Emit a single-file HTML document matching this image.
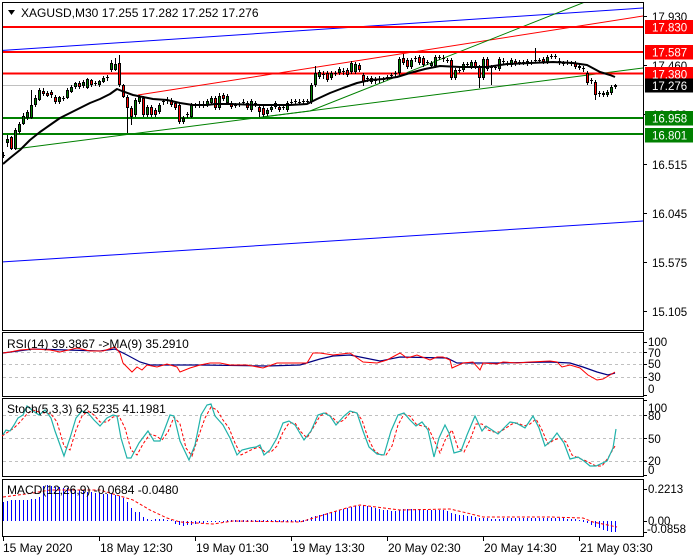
<!DOCTYPE html>
<html><head><meta charset="utf-8"><style>
html,body{margin:0;padding:0;background:#fff;}
svg{display:block;font-family:"Liberation Sans",sans-serif;}
</style></head><body>
<svg width="700" height="560" viewBox="0 0 700 560" xmlns="http://www.w3.org/2000/svg">
<rect width="700" height="560" fill="#fff"/>
<defs><clipPath id="cm"><rect x="3" y="3" width="640" height="327"/></clipPath></defs>

<!-- main panel -->
<g clip-path="url(#cm)">
<line x1="2" y1="85.5" x2="643" y2="85.5" stroke="#c0c0c0" stroke-width="1"/>
<line x1="2" y1="50.5" x2="643" y2="8" stroke="#0000ff" stroke-width="1"/>
<line x1="2" y1="262" x2="643" y2="221" stroke="#0000ff" stroke-width="1"/>
<line x1="138" y1="95" x2="643" y2="16" stroke="#ff0000" stroke-width="1"/>
<line x1="15" y1="149" x2="643" y2="68" stroke="#008000" stroke-width="1"/>
<polyline points="262,117 310,111 590,0" fill="none" stroke="#008000" stroke-width="1"/>
<g shape-rendering="crispEdges">
<rect x="2" y="26" width="641" height="2" fill="#ff0000"/>
<rect x="2" y="51" width="641" height="2" fill="#ff0000"/>
<rect x="2" y="72.5" width="641" height="2" fill="#ff0000"/>
<rect x="2" y="117" width="641" height="2" fill="#008000"/>
<rect x="2" y="133" width="641" height="2" fill="#008000"/>
</g>
<path shape-rendering="crispEdges" stroke="#000" stroke-width="1" fill="none" d="M3.5 152V158M7.5 135V147M11.5 136V150M15.5 128V150M19.5 122V134M23.5 113V125M27.5 110V120M31.5 90V119M35.5 95V107M39.5 88V101M43.5 88V96M47.5 91V97M51.5 90V98M55.5 95V104M59.5 96V104M63.5 96V101M67.5 88V99M71.5 85V93M75.5 82V89M79.5 81V89M83.5 80V88M87.5 78V89M91.5 79V87M95.5 81V86M99.5 80V87M103.5 76V83M107.5 75V81M111.5 60V72M115.5 58V71M119.5 55V87M123.5 84V98M127.5 95V133M131.5 106V125M135.5 98V117M139.5 95V104M143.5 96V117M147.5 105V117M151.5 105V117M155.5 108V117M159.5 103V114M163.5 99V105M167.5 97V104M171.5 98V107M175.5 101V110M179.5 103V124M183.5 116V124M187.5 112V118M191.5 103V118M195.5 103V108M199.5 101V108M203.5 101V108M207.5 99V107M211.5 96V104M215.5 96V110M219.5 93V110M223.5 93V101M227.5 94V105M231.5 101V109M235.5 103V108M239.5 102V107M243.5 99V105M247.5 101V110M251.5 99V112M255.5 101V107M259.5 105V117M263.5 106V117M267.5 108V116M271.5 105V112M275.5 101V109M279.5 105V112M283.5 105V110M287.5 101V112M291.5 99V105M295.5 99V104M299.5 99V105M303.5 99V104M307.5 99V104M311.5 83V104M315.5 66V87M319.5 70V79M323.5 71V79M327.5 71V82M331.5 71V80M335.5 71V76M339.5 67V75M343.5 68V75M347.5 68V77M351.5 61V74M355.5 62V74M359.5 63V72M363.5 73V86M367.5 76V82M371.5 76V84M375.5 77V84M379.5 76V83M383.5 77V82M387.5 75V80M391.5 73V79M395.5 71V77M399.5 57V75M403.5 54V65M407.5 58V69M411.5 58V69M415.5 56V62M419.5 55V65M423.5 56V67M427.5 60V65M431.5 61V68M435.5 55V68M439.5 55V60M443.5 55V62M447.5 58V63M451.5 58V80M455.5 68V80M459.5 68V73M463.5 62V72M467.5 62V67M471.5 60V69M475.5 60V69M479.5 65V88M483.5 57V80M487.5 57V71M491.5 65V85M495.5 65V70M499.5 57V71M503.5 58V65M507.5 61V66M511.5 58V67M515.5 59V66M519.5 60V65M523.5 60V65M527.5 59V66M531.5 60V65M535.5 48V63M539.5 58V63M543.5 57V64M547.5 55V64M551.5 54V59M555.5 54V59M559.5 58V65M563.5 61V66M567.5 60V65M571.5 61V66M575.5 61V69M579.5 64V70M583.5 66V72M587.5 71V85M591.5 78V84M595.5 80V100M599.5 91V97M603.5 91V97M607.5 90V97M611.5 85V95M615.5 84V89"/>
<path shape-rendering="crispEdges" stroke="#000" stroke-width="1" fill="none" d="M2 155.5h3M62 98.5h3M94 83.5h3M106 77.5h3M162 101.5h3M166 100.5h3M186 114.5h3M194 105.5h3M198 104.5h3M202 104.5h3M234 105.5h3M238 104.5h3M242 102.5h3M254 103.5h3M282 107.5h3M290 102.5h3M294 101.5h3M298 102.5h3M302 101.5h3M306 101.5h3M322 74.5h3M334 73.5h3M342 71.5h3M366 78.5h3M374 80.5h3M378 79.5h3M382 79.5h3M386 77.5h3M390 75.5h3M394 73.5h3M414 58.5h3M426 62.5h3M438 57.5h3M442 58.5h3M446 60.5h3M458 70.5h3M466 64.5h3M490 67.5h3M494 67.5h3M502 61.5h3M506 63.5h3M518 62.5h3M522 62.5h3M530 62.5h3M534 60.5h3M538 60.5h3M550 56.5h3M554 56.5h3M558 61.5h3M562 63.5h3M566 62.5h3M570 63.5h3M582 68.5h3M590 80.5h3M598 93.5h3"/>
<g stroke="#000" stroke-width="1" shape-rendering="crispEdges">
<g fill="#008000">
<rect x="6.5" y="139.5" width="2" height="3"/><rect x="14.5" y="130.5" width="2" height="18"/><rect x="18.5" y="124.5" width="2" height="7"/><rect x="22.5" y="116.5" width="2" height="7"/><rect x="26.5" y="112.5" width="2" height="5"/><rect x="30.5" y="105.5" width="2" height="12"/><rect x="34.5" y="98.5" width="2" height="6"/><rect x="38.5" y="90.5" width="2" height="9"/><rect x="58.5" y="97.5" width="2" height="4"/><rect x="66.5" y="90.5" width="2" height="7"/><rect x="70.5" y="87.5" width="2" height="4"/><rect x="74.5" y="83.5" width="2" height="3"/><rect x="82.5" y="82.5" width="2" height="3"/><rect x="86.5" y="79.5" width="2" height="8"/><rect x="98.5" y="81.5" width="2" height="3"/><rect x="102.5" y="78.5" width="2" height="3"/><rect x="110.5" y="63.5" width="2" height="6"/><rect x="114.5" y="64.5" width="2" height="5"/><rect x="134.5" y="100.5" width="2" height="14"/><rect x="138.5" y="97.5" width="2" height="4"/><rect x="146.5" y="107.5" width="2" height="7"/><rect x="158.5" y="105.5" width="2" height="6"/><rect x="182.5" y="118.5" width="2" height="3"/><rect x="190.5" y="105.5" width="2" height="11"/><rect x="206.5" y="101.5" width="2" height="3"/><rect x="210.5" y="98.5" width="2" height="4"/><rect x="218.5" y="96.5" width="2" height="11"/><rect x="226.5" y="96.5" width="2" height="6"/><rect x="250.5" y="101.5" width="2" height="8"/><rect x="266.5" y="110.5" width="2" height="3"/><rect x="270.5" y="107.5" width="2" height="2"/><rect x="274.5" y="103.5" width="2" height="3"/><rect x="286.5" y="103.5" width="2" height="6"/><rect x="310.5" y="85.5" width="2" height="16"/><rect x="314.5" y="73.5" width="2" height="11"/><rect x="318.5" y="72.5" width="2" height="4"/><rect x="330.5" y="73.5" width="2" height="4"/><rect x="338.5" y="69.5" width="2" height="3"/><rect x="350.5" y="63.5" width="2" height="8"/><rect x="354.5" y="64.5" width="2" height="7"/><rect x="370.5" y="78.5" width="2" height="3"/><rect x="398.5" y="59.5" width="2" height="13"/><rect x="410.5" y="60.5" width="2" height="6"/><rect x="430.5" y="63.5" width="2" height="2"/><rect x="434.5" y="57.5" width="2" height="8"/><rect x="454.5" y="70.5" width="2" height="7"/><rect x="462.5" y="64.5" width="2" height="5"/><rect x="470.5" y="62.5" width="2" height="4"/><rect x="482.5" y="59.5" width="2" height="18"/><rect x="498.5" y="59.5" width="2" height="9"/><rect x="510.5" y="60.5" width="2" height="4"/><rect x="526.5" y="61.5" width="2" height="2"/><rect x="546.5" y="57.5" width="2" height="4"/><rect x="606.5" y="92.5" width="2" height="2"/><rect x="610.5" y="87.5" width="2" height="5"/><rect x="614.5" y="85.5" width="2" height="1"/>
</g>
<g fill="#ff0000">
<rect x="10.5" y="137.5" width="2" height="11"/><rect x="42.5" y="91.5" width="2" height="2"/><rect x="46.5" y="93.5" width="2" height="2"/><rect x="50.5" y="92.5" width="2" height="2"/><rect x="54.5" y="97.5" width="2" height="4"/><rect x="78.5" y="83.5" width="2" height="3"/><rect x="90.5" y="80.5" width="2" height="4"/><rect x="118.5" y="63.5" width="2" height="21"/><rect x="122.5" y="85.5" width="2" height="11"/><rect x="126.5" y="97.5" width="2" height="10"/><rect x="130.5" y="108.5" width="2" height="8"/><rect x="142.5" y="98.5" width="2" height="16"/><rect x="150.5" y="107.5" width="2" height="7"/><rect x="154.5" y="110.5" width="2" height="4"/><rect x="170.5" y="100.5" width="2" height="4"/><rect x="174.5" y="103.5" width="2" height="4"/><rect x="178.5" y="105.5" width="2" height="16"/><rect x="214.5" y="98.5" width="2" height="9"/><rect x="222.5" y="95.5" width="2" height="3"/><rect x="230.5" y="103.5" width="2" height="3"/><rect x="246.5" y="103.5" width="2" height="4"/><rect x="258.5" y="107.5" width="2" height="4"/><rect x="262.5" y="108.5" width="2" height="6"/><rect x="278.5" y="107.5" width="2" height="2"/><rect x="326.5" y="73.5" width="2" height="6"/><rect x="346.5" y="70.5" width="2" height="4"/><rect x="358.5" y="65.5" width="2" height="4"/><rect x="362.5" y="75.5" width="2" height="6"/><rect x="402.5" y="58.5" width="2" height="4"/><rect x="406.5" y="60.5" width="2" height="6"/><rect x="418.5" y="57.5" width="2" height="5"/><rect x="422.5" y="58.5" width="2" height="6"/><rect x="450.5" y="60.5" width="2" height="17"/><rect x="474.5" y="62.5" width="2" height="4"/><rect x="478.5" y="67.5" width="2" height="10"/><rect x="486.5" y="59.5" width="2" height="9"/><rect x="514.5" y="61.5" width="2" height="2"/><rect x="542.5" y="59.5" width="2" height="2"/><rect x="574.5" y="63.5" width="2" height="3"/><rect x="578.5" y="66.5" width="2" height="1"/><rect x="586.5" y="73.5" width="2" height="9"/><rect x="594.5" y="82.5" width="2" height="12"/><rect x="602.5" y="93.5" width="2" height="1"/>
</g>
</g>
<polyline fill="none" stroke="#000" stroke-width="2" stroke-linejoin="round" points="3,164 10,158 20,150 30,140 40,132 50,125 60,118 70,113 80,108 90,103 100,99 110,94 117,89 122,91 133,95 143,97 153,99 167,100 180,103 193,105 207,105 215,104 230,104 260,105 290,105 307,104 317,99 330,93 343,88 357,83 370,80 383,79 397,77 410,73 425,69 440,66 460,67 487,67 507,64 530,63 553,62 573,63 587,65 600,72 610,75 615,77"/>
</g>

<!-- title -->
<path d="M8 10h7l-3.5 5z" fill="#000"/>
<text x="21" y="17" font-size="12" fill="#000">XAGUSD,M30  17.255 17.282 17.252 17.276</text>

<!-- panel frames -->
<g fill="none" stroke="#000" stroke-width="1" shape-rendering="crispEdges">
<rect x="2.5" y="2.5" width="641" height="328"/>
<rect x="2.5" y="332.5" width="641" height="64"/>
<rect x="2.5" y="398.5" width="641" height="78"/>
<rect x="2.5" y="479.5" width="641" height="57"/>
<path d="M643 16.5h4M643 65.5h4M643 114.5h4M643 164.5h4M643 213.5h4M643 262.5h4M643 311.5h4M643 342.5h4M643 352.5h4M643 364.5h4M643 377.5h4M643 395.5h4M643 400.5h4M643 415.5h4M643 438.5h4M643 461.5h4M643 475.5h4M643 489.5h4M643 521.5h4M643 532.5h4"/>
<path d="M3.5 537v4M99.5 537v4M195.5 537v4M291.5 537v4M387.5 537v4M483.5 537v4M579.5 537v4"/>
</g>

<!-- main axis labels -->
<g font-size="11.5" fill="#000">
<text x="652" y="21">17.930</text>
<text x="652" y="70">17.460</text>
<text x="652" y="119">16.988</text>
<text x="652" y="169">16.515</text>
<text x="652" y="218">16.045</text>
<text x="652" y="267">15.575</text>
<text x="652" y="316">15.105</text>
</g>
<g font-size="11.5" fill="#fff">
<rect x="645" y="20" width="48" height="14" fill="#ff0000"/><text x="652" y="31.5">17.830</text>
<rect x="645" y="45" width="48" height="14.5" fill="#ff0000"/><text x="652" y="56.5">17.587</text>
<rect x="645" y="67" width="48" height="14.5" fill="#ff0000"/><text x="652" y="78.5">17.380</text>
<rect x="645" y="78.5" width="48" height="14" fill="#000"/><text x="652" y="90">17.276</text>
<rect x="645" y="111" width="48" height="14.5" fill="#008000"/><text x="652" y="122.5">16.958</text>
<rect x="645" y="128" width="48" height="14.5" fill="#008000"/><text x="652" y="139.5">16.801</text>
</g>

<!-- RSI -->
<g stroke="#c0c0c0" stroke-dasharray="3 3" stroke-width="1" shape-rendering="crispEdges">
<line x1="3" y1="352.5" x2="643" y2="352.5"/><line x1="3" y1="364.5" x2="643" y2="364.5"/><line x1="3" y1="377.5" x2="643" y2="377.5"/>
<line x1="3" y1="415.5" x2="643" y2="415.5"/><line x1="3" y1="438.5" x2="643" y2="438.5"/><line x1="3" y1="461.5" x2="643" y2="461.5"/>
</g>
<polyline fill="none" stroke="#000080" stroke-width="1.2" points="3,353 33,349 67,350 100,351 115,349 127,355 140,362 150,365 200,365 267,366 300,365 320,359 333,356 350,355 380,361 400,357 447,358 457,363 497,363 550,362 570,363 583,367 597,372 608,375 615,373"/>
<polyline fill="none" stroke="#ff0000" stroke-width="1" points="3,353 10,352 20,350 33,349 50,350 60,352 77,348 90,351 103,351 115,347 120,353 123,363 132,372 137,367 142,370 147,365 157,367 167,364 177,367 180,372 190,368 200,365 210,363 220,363 230,365 247,365 263,368 277,363 290,363 307,363 313,353 320,353 333,355 350,353 363,362 377,363 387,360 400,353 407,358 417,355 430,360 437,357 443,357 450,360 452,368 463,363 473,362 480,370 483,363 497,364 503,362 517,363 530,362 550,361 557,362 562,367 570,365 580,368 588,375 597,380 603,379 610,375 615,372"/>
<text x="7" y="348" font-size="12" fill="#000">RSI(14) 39.3867  -&gt;MA(9) 35.2910</text>
<g font-size="11.5" fill="#000">
<text x="648" y="346">100</text><text x="648" y="357">70</text><text x="648" y="368">50</text><text x="648" y="381">30</text><text x="648" y="393">0</text>
</g>

<!-- Stoch -->
<polyline fill="none" stroke="#ff0000" stroke-width="1" stroke-dasharray="3 2" points="2,436 8,432 14,428 20,422 27,414 33,410 39,412 45,413 51,414 57,422 64,446 70,450 76,430 82,416 88,411 94,415 100,422 107,422 113,417 119,416 125,428 131,450 137,455 143,444 150,434 156,436 162,440 168,432 174,417 180,424 186,448 192,456 198,438 205,418 211,407 217,410 223,420 229,428 235,443 241,455 247,452 253,449 259,447 265,452 271,452 277,446 283,432 289,423 295,423 301,432 307,438 313,428 320,416 326,413 332,417 338,423 344,420 350,413 356,412 362,420 368,438 374,450 380,455 386,455 392,446 398,425 404,414 410,416 416,424 422,426 428,427 434,440 440,453 446,438 452,430 458,448 464,452 470,440 476,424 482,424 488,430 494,432 500,432 506,428 512,424 518,423 524,426 530,424 536,419 542,430 548,444 554,440 560,438 566,442 572,455 578,458 584,460 590,463 596,466 602,466 608,458 615,446"/>
<polyline fill="none" stroke="#20b2aa" stroke-width="1.2" points="3,434.7 6,430 10,431 14,425 18,418 23,415 27,406 33,411 39,415 45,410 51,418 55,431 64,456 70,438 76,418 82,411 88,413 94,420 100,426 107,418 113,415 117,416 121,438 127,458 131,458 139,443 148,431 154,441 160,441 164,431 170,415 174,416 180,441 189,460 195,445 201,415 207,405 211,404 215,416 223,425 230,438 237,455 242,450 250,448 256,447 260,445 264,455 270,450 277,438 283,423 289,421 295,425 304,440 311,431 318,415 324,413 330,416 336,425 344,416 350,411 357,413 363,431 369,447 377,454 384,455 391,431 398,415 404,413 410,420 416,426 422,422 428,430 434,457 439,438 445,425 449,433 454,453 461,451 467,435 475,416 482,431 486,426 492,430 498,434 504,428 510,422 516,423 525,428 533,416 539,428 545,446 551,441 557,433 564,443 570,459 578,457 584,461 590,466 596,466 607,461 613,448 616,429"/>
<text x="7" y="413" font-size="12" fill="#000">Stoch(5,3,3) 62.5235 41.1981</text>
<g font-size="11.5" fill="#000">
<text x="648" y="412">100</text><text x="648" y="420">80</text><text x="648" y="443">50</text><text x="648" y="465">20</text><text x="648" y="474">0</text>
</g>

<!-- MACD -->
<path shape-rendering="crispEdges" stroke="#0000ff" stroke-width="1" fill="none" d="M3.5 521V502M7.5 521V501M11.5 521V500M15.5 521V500M19.5 521V500M23.5 521V500M27.5 521V500M31.5 521V499M35.5 521V499M39.5 521V497M43.5 521V486M47.5 521V485M51.5 521V486M55.5 521V487M59.5 521V487M63.5 521V488M67.5 521V488M71.5 521V489M75.5 521V490M79.5 521V490M83.5 521V491M87.5 521V492M91.5 521V492M95.5 521V493M99.5 521V493M103.5 521V494M107.5 521V494M111.5 521V494M115.5 521V495M119.5 521V496M123.5 521V498M127.5 521V502M131.5 521V508M135.5 521V512M139.5 521V512M143.5 521V517M147.5 521V519M151.5 521V520M155.5 521V519M159.5 521V519M163.5 521V519M167.5 521V520M171.5 521V520M175.5 521V524M179.5 521V525M183.5 521V526M187.5 521V525M191.5 521V525M195.5 521V524M199.5 521V523M203.5 521V523M207.5 521V522M211.5 521V522M215.5 521V522M219.5 521V522M223.5 521V522M227.5 520V522M231.5 520V522M235.5 520V522M239.5 520V522M243.5 520V522M247.5 520V522M251.5 520V522M255.5 520V522M259.5 520V522M263.5 520V522M267.5 520V522M271.5 520V522M275.5 520V522M279.5 520V522M283.5 520V522M287.5 520V522M291.5 520V522M295.5 520V522M299.5 520V522M303.5 520V522M307.5 521V519M311.5 521V517M315.5 521V516M319.5 521V515M323.5 521V514M327.5 521V513M331.5 521V512M335.5 521V511M339.5 521V510M343.5 521V509M347.5 521V508M351.5 521V507M355.5 521V506M359.5 521V506M363.5 521V505M367.5 521V506M371.5 521V507M375.5 521V508M379.5 521V509M383.5 521V510M387.5 521V510M391.5 521V511M395.5 521V511M399.5 521V510M403.5 521V509M407.5 521V509M411.5 521V509M415.5 521V509M419.5 521V509M423.5 521V509M427.5 521V510M431.5 521V510M435.5 521V510M439.5 521V510M443.5 521V510M447.5 521V511M451.5 521V513M455.5 521V514M459.5 521V515M463.5 521V515M467.5 521V516M471.5 521V516M475.5 521V517M479.5 521V518M483.5 521V518M487.5 521V518M491.5 521V519M495.5 521V519M499.5 521V519M503.5 521V518M507.5 521V518M511.5 521V518M515.5 521V518M519.5 521V518M523.5 521V518M527.5 521V518M531.5 521V518M535.5 521V518M539.5 521V518M543.5 521V518M547.5 521V518M551.5 521V518M555.5 521V518M559.5 521V518M563.5 521V518M567.5 521V519M571.5 521V519M575.5 521V519M579.5 521V520M583.5 520V522M587.5 521V523M591.5 521V525M595.5 521V527M599.5 521V528M603.5 521V530M607.5 521V531M611.5 521V532M615.5 521V532"/>
<polyline fill="none" stroke="#ff0000" stroke-width="1" stroke-dasharray="3 2" points="3,497 33,493 50,490 100,490 110,493 133,500 150,510 167,518 180,522 213,524 233,521 300,522 317,517 333,512 350,507 360,505 400,510 450,509 467,513 483,517 550,517 583,518 593,522 617,527"/>
<text x="7" y="494" font-size="12" fill="#000">MACD(12,26,9) -0.0684 -0.0480</text>
<g font-size="11.5" fill="#000">
<text x="648" y="493">0.2213</text><text x="648" y="525">0.00</text><text x="647" y="533">-0.0858</text>
</g>

<!-- time axis -->
<g font-size="12" fill="#000">
<text x="3" y="552">15 May 2020</text>
<text x="100" y="552">18 May 12:30</text>
<text x="196" y="552">19 May 01:30</text>
<text x="292" y="552">19 May 13:30</text>
<text x="388" y="552">20 May 02:30</text>
<text x="484" y="552">20 May 14:30</text>
<text x="580" y="552">21 May 03:30</text>
</g>
</svg>
</body></html>
